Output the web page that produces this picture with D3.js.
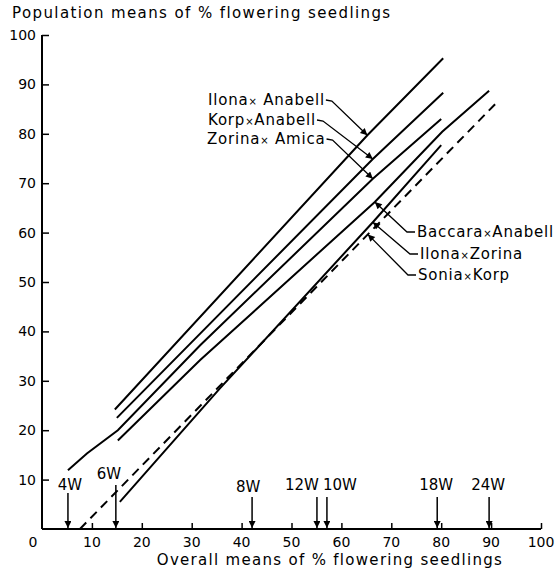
<!DOCTYPE html>
<html>
<head>
<meta charset="utf-8">
<script src="https://cdn.jsdelivr.net/npm/d3@7/dist/d3.min.js"></script>
<style>
body { margin: 0; background: #fff; }
text { font-family: "DejaVu Sans", sans-serif; fill: #000; }
</style>
</head>
<body>
<svg id="chart"></svg>
<script>
// crosses, top to bottom at the right end
var crossNames = ["Ilona× Anabell", "Korp×Anabell", "Zorina× Amica",
                  "Baccara×Anabell", "Ilona×Zorina", "Sonia×Korp"];
// overall means (x) and population means (y)
var crossX = [
	[14.6, 65.2, 80.4],
	[15.0, 66.3, 80.4],
	[5.2, 9.0, 15.2, 31.7, 66.3, 80.0],
	[15.2, 31.7, 66.7, 80.2, 89.6],
	[15.6, 35.7, 66.3, 80.0],
	[7.6, 91.0]
];
var crossY = [
	[24.2, 79.7, 95.3],
	[22.5, 74.9, 88.3],
	[11.9, 15.3, 20.0, 37.2, 70.9, 83.0],
	[17.9, 34.2, 66.2, 80.4, 88.7],
	[5.5, 28.5, 62.1, 77.7],
	[0, 86.2]
];
var crossDashed = [false, false, false, false, false, true];
// where each label's arrow hits its line (overall mean)
var arrowAt = [65.2, 66.3, 66.3, 66.7, 66.3, 65.3];

// sowing dates and their overall means
var weekLabels = ["4W", "6W", "8W", "12W", "10W", "18W", "24W"];
var weekMeans  = [5.2, 14.8, 42.1, 55.1, 57.1, 79.2, 89.6];

var xTicks = [10, 20, 30, 40, 50, 60, 70, 80, 90, 100];
var yTicks = [10, 20, 30, 40, 50, 60, 70, 80, 90, 100];

var width = 555, height = 569;

var svg = d3.select("#chart")
	.attr("width", width)
	.attr("height", height);

var x = d3.scaleLinear().domain([0, 100]).range([42, 541]);
var y = d3.scaleLinear().domain([0, 100]).range([529, 35]);

svg.append("defs").append("marker")
	.attr("id", "head")
	.attr("viewBox", "0 0 10 10")
	.attr("refX", 10).attr("refY", 5)
	.attr("markerWidth", 10).attr("markerHeight", 7)
	.attr("markerUnits", "userSpaceOnUse")
	.attr("orient", "auto")
	.append("path")
	.attr("d", "M0,0 L10,5 L0,10 Z")
	.attr("fill", "#000");

// axes: ticks point inward, no domain path
var xAxis = d3.axisTop(x).tickValues(xTicks).tickSize(6).tickFormat("");
var yAxis = d3.axisRight(y).tickValues(yTicks).tickSize(7).tickFormat("");

svg.append("g").attr("transform", "translate(0," + y(0) + ")")
	.call(xAxis)
	.call(function(g) { g.select(".domain").remove(); })
	.selectAll("line").attr("stroke-width", 1.5);

svg.append("g").attr("transform", "translate(" + x(0) + ",0)")
	.call(yAxis)
	.call(function(g) { g.select(".domain").remove(); })
	.selectAll("line").attr("stroke-width", 1.5);

svg.append("line")
	.attr("x1", x(0)).attr("x2", x(100))
	.attr("y1", y(0)).attr("y2", y(0))
	.attr("stroke", "#000").attr("stroke-width", 2);
svg.append("line")
	.attr("x1", x(0)).attr("x2", x(0))
	.attr("y1", y(0)).attr("y2", y(100))
	.attr("stroke", "#000").attr("stroke-width", 2);

// tick labels
svg.selectAll(".ylab").data(yTicks).enter().append("text")
	.attr("class", "ylab")
	.attr("x", 36)
	.attr("y", function(d) { return y(d); })
	.attr("dy", "0.36em")
	.attr("text-anchor", "end")
	.style("font-size", "14px")
	.text(function(d) { return d; });

svg.selectAll(".xlab").data(xTicks).enter().append("text")
	.attr("class", "xlab")
	.attr("x", function(d) { return x(d); })
	.attr("y", 547)
	.attr("text-anchor", "middle")
	.style("font-size", "14px")
	.text(function(d) { return d; });

svg.append("text").attr("x", 33).attr("y", 547)
	.attr("text-anchor", "middle").style("font-size", "14px").text("0");

// titles
svg.append("text").attr("x", 12).attr("y", 18)
	.style("font-size", "15px").style("letter-spacing", "1.4px")
	.text("Population means of % flowering seedlings");
svg.append("text").attr("x", 330).attr("y", 565)
	.attr("text-anchor", "middle")
	.style("font-size", "15px").style("letter-spacing", "1.3px")
	.text("Overall means of % flowering seedlings");

// cross lines
var line = d3.line()
	.x(function(d) { return x(d[0]); })
	.y(function(d) { return y(d[1]); });

crossNames.forEach(function(name, i) {
	var pts = d3.zip(crossX[i], crossY[i]);
	svg.append("path")
		.datum(pts)
		.attr("d", line)
		.attr("fill", "none")
		.attr("stroke", "#000")
		.attr("stroke-width", 2)
		.attr("stroke-dasharray", crossDashed[i] ? "9,6" : null);
});

// value of a cross line at a given overall mean
function yOn(i, xv) {
	return d3.scaleLinear().domain(crossX[i]).range(crossY[i])(xv);
}

// labels: left group reads left-to-right, right group sits after the lines
var labelPos = [
	{x: 208, y: 100, side: "left"},
	{x: 208, y: 120, side: "left"},
	{x: 207, y: 139, side: "left"},
	{x: 417, y: 232, side: "right"},
	{x: 420, y: 254, side: "right"},
	{x: 418, y: 275, side: "right"}
];

crossNames.forEach(function(name, i) {
	var p = labelPos[i];
	var t = svg.append("text")
		.attr("x", p.x).attr("y", p.y)
		.attr("dy", "0.36em")
		.style("font-size", "15px")
		.style("letter-spacing", "0.8px");
	var parts = name.split("×");
	t.append("tspan").text(parts[0]);
	t.append("tspan").style("font-size", "10px").text("×");
	t.append("tspan").text(parts[1]);

	var tipX = x(arrowAt[i]), tipY = y(yOn(i, arrowAt[i]));
	var pts;
	if (p.side == "left") {
		var endX = p.x + t.node().getComputedTextLength() + 1;
		pts = [[endX, p.y], [endX + 6, p.y + 1], [tipX, tipY]];
	} else {
		pts = [[p.x - 2, p.y], [p.x - 10, p.y], [tipX, tipY]];
	}
	svg.append("path")
		.attr("d", d3.line()(pts))
		.attr("fill", "none")
		.attr("stroke", "#000")
		.attr("stroke-width", 1.3)
		.attr("marker-end", "url(#head)");
});

// sowing date arrows along the x axis
var weekTop   = [493, 485, 497, 497, 497, 497, 497];
var weekTextX = [2, -7, -4, -15, 13, -1, -1];
var weekTextY = [485, 474, 487, 485, 485, 485, 485];

weekLabels.forEach(function(w, i) {
	var wx = x(weekMeans[i]);
	svg.append("line")
		.attr("x1", wx).attr("x2", wx)
		.attr("y1", weekTop[i]).attr("y2", y(0) - 1)
		.attr("stroke", "#000").attr("stroke-width", 1.5)
		.attr("marker-end", "url(#head)");
	svg.append("text")
		.attr("x", wx + weekTextX[i])
		.attr("y", weekTextY[i])
		.attr("dy", "0.36em")
		.attr("text-anchor", "middle")
		.style("font-size", "15px")
		.text(w);
});
</script>
</body>
</html>
